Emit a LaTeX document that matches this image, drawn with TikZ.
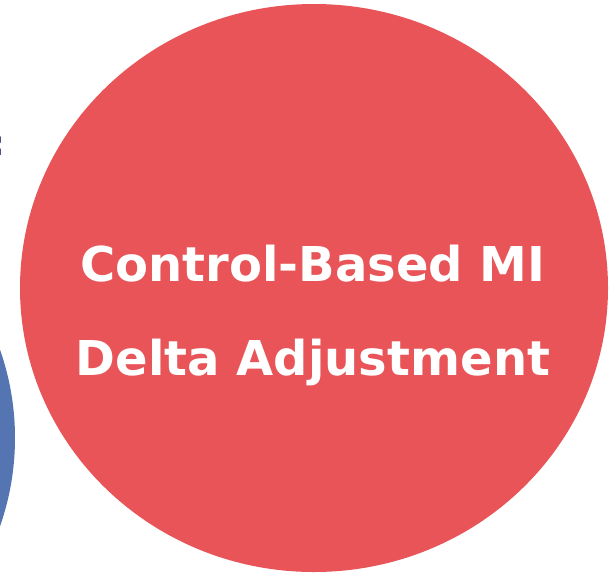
\documentclass[tikz,border=0pt]{standalone}
\usepackage{fontspec}
\setmainfont{DejaVu Sans}
\usetikzlibrary{shapes.geometric, positioning}

\definecolor{redfill}{RGB}{232,84,87}
\definecolor{bluefill}{RGB}{84,117,178}
\definecolor{navytext}{RGB}{31,42,92}

\begin{document}
\begin{tikzpicture}[
  x=1pt, y=-1pt,
  bubble/.style={ellipse, fill=redfill, inner sep=0pt},
  side/.style={circle, fill=bluefill, inner sep=0pt},
  label/.style={text=white, font=\fontsize{48}{94}\selectfont\bfseries, align=center},
  cut/.style={text=navytext, font=\fontsize{34}{40}\selectfont\bfseries, inner sep=0pt}
]
\useasboundingbox (0,0) rectangle (612,574);
\clip (0,0) rectangle (612,574);

% Circles
\node[side, minimum size=532pt] (blue) at (-251,438) {};
\node[bubble, minimum width=588pt, minimum height=568pt] (red) at (314,288) {};

% Texts
\node[label] (title) at (313,315) {Control-Based MI\\Delta Adjustment};
\node[cut, anchor=east] (colon) at (5,146) {:};

\end{tikzpicture}
\end{document}
